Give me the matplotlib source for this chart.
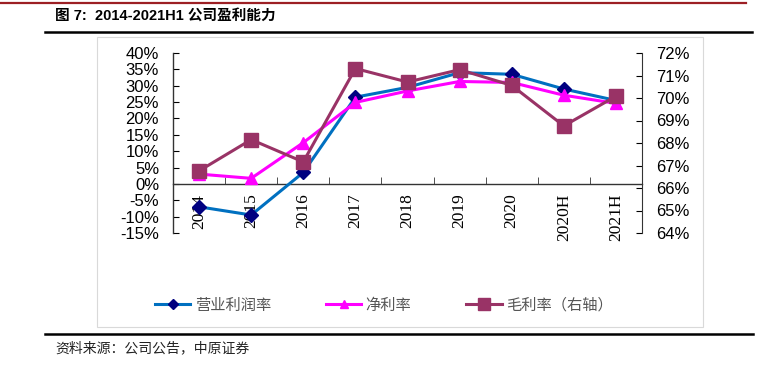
import numpy as np
import matplotlib
matplotlib.use("Agg")
import matplotlib.pyplot as plt
from matplotlib.lines import Line2D
from matplotlib.patches import Rectangle
from matplotlib.ticker import FuncFormatter, FixedLocator

years = ['2014', '2015', '2016', '2017', '2018', '2019', '2020', '2020H', '2021H']
op_margin = [-7.0, -9.5, 3.5, 26.5, 29.5, 34.0, 33.5, 29.0, 25.5]
net_margin = [3.0, 1.7, 12.6, 24.9, 28.4, 31.3, 31.0, 27.1, 24.6]
gross_margin = [66.76, 68.15, 67.16, 71.31, 70.71, 71.26, 70.56, 68.76, 70.08]
labels = ['营业利润率', '净利率', '毛利率（右轴）']

cjk = ['Noto Sans CJK SC', 'DejaVu Sans']
plt.rcParams['font.family'] = ['Liberation Sans', 'Noto Sans CJK SC']

fig = plt.figure(figsize=(7.74, 3.68), dpi=100)
W, H = 774, 368

def fx(px):
    return px / W

def fy(py):
    return 1 - py / H

# decorations: top rule, title, rules, source
fig.add_artist(Line2D([0, fx(746)], [fy(2.5), fy(2.5)], color='#9C1F24', lw=1.6))
fig.text(fx(55), fy(16), '图 7:  2014-2021H1 公司盈利能力', fontsize=10.5, fontweight='bold',
         va='center', ha='left', family=['Liberation Sans', 'Noto Sans CJK SC'])
fig.add_artist(Line2D([fx(45), fx(752)], [fy(31.5), fy(31.5)], color='black', lw=1.8))
fig.add_artist(Rectangle((fx(97), fy(327)), fx(703) - fx(97), fy(37) - fy(327),
                         fill=False, ec='#d9d9d9', lw=0.8, transform=fig.transFigure))
fig.add_artist(Line2D([fx(45), fx(753)], [fy(334), fy(334)], color='black', lw=1.8))
fig.text(fx(55), fy(348), '资料来源：公司公告，中原证券', fontsize=10, va='center', ha='left',
         family=cjk, color='#222222')

ax = fig.add_axes([fx(173), fy(233), fx(642) - fx(173), (233 - 53) / H])
x = np.arange(len(years))

l1, = ax.plot(x, op_margin, color='#0070C0', lw=2.2, marker='D', ms=7,
              mfc='#000080', mec='#000080', zorder=3)
l2, = ax.plot(x, net_margin, color='#FF00FF', lw=2.2, marker='^', ms=8,
              mfc='#FF00FF', mec='#FF00FF', zorder=3)
ax.set_xlim(-0.5, len(years) - 0.5)
ax.set_ylim(-15, 40)
ax.set_yticks(np.arange(-15, 41, 5))
ax.yaxis.set_major_formatter(FuncFormatter(lambda v, p: f'{v:.0f}%'))

ax2 = ax.twinx()
l3, = ax2.plot(x, gross_margin, color='#993366', lw=2.2, marker='s', ms=10,
               mfc='#993366', mec='#993366', zorder=4)
ax2.set_ylim(64, 72)
ax2.set_yticks(np.arange(64, 73, 1))
ax2.yaxis.set_major_formatter(FuncFormatter(lambda v, p: f'{v:.0f}%'))

for a in (ax, ax2):
    a.spines['top'].set_visible(False)
    a.set_facecolor('none')
ax2.spines['bottom'].set_visible(False)
ax2.spines['left'].set_visible(False)
ax.spines['right'].set_visible(False)
ax.spines['bottom'].set_position(('data', 0))
for s in ('left', 'bottom'):
    ax.spines[s].set_color('#333333')
    ax.spines[s].set_linewidth(1.0)
ax2.spines['right'].set_color('#333333')

ax.tick_params(axis='y', direction='in', length=4, labelsize=12, pad=10)
ax2.tick_params(axis='y', direction='in', length=4, labelsize=12, pad=10)

ax.set_xticks(x)
ax.set_xticklabels(years, rotation=90, fontsize=12.5, family='Liberation Serif',
                   va='top', ha='center')
ax.xaxis.set_minor_locator(FixedLocator(np.arange(0.5, len(years) - 1, 1)))
ax.tick_params(axis='x', which='major', length=0, pad=7)
ax.tick_params(axis='x', which='minor', direction='in', length=5, color='#333333')

fig.legend([l1, l2, l3], labels, loc='center', bbox_to_anchor=(fx(384), fy(305)),
           ncol=3, frameon=False, prop={'family': cjk, 'size': 11},
           handlelength=2.3, handletextpad=0.3, columnspacing=3.6,
           labelcolor='#555555', markerscale=0.8)

fig.savefig('out.png', dpi=100)
